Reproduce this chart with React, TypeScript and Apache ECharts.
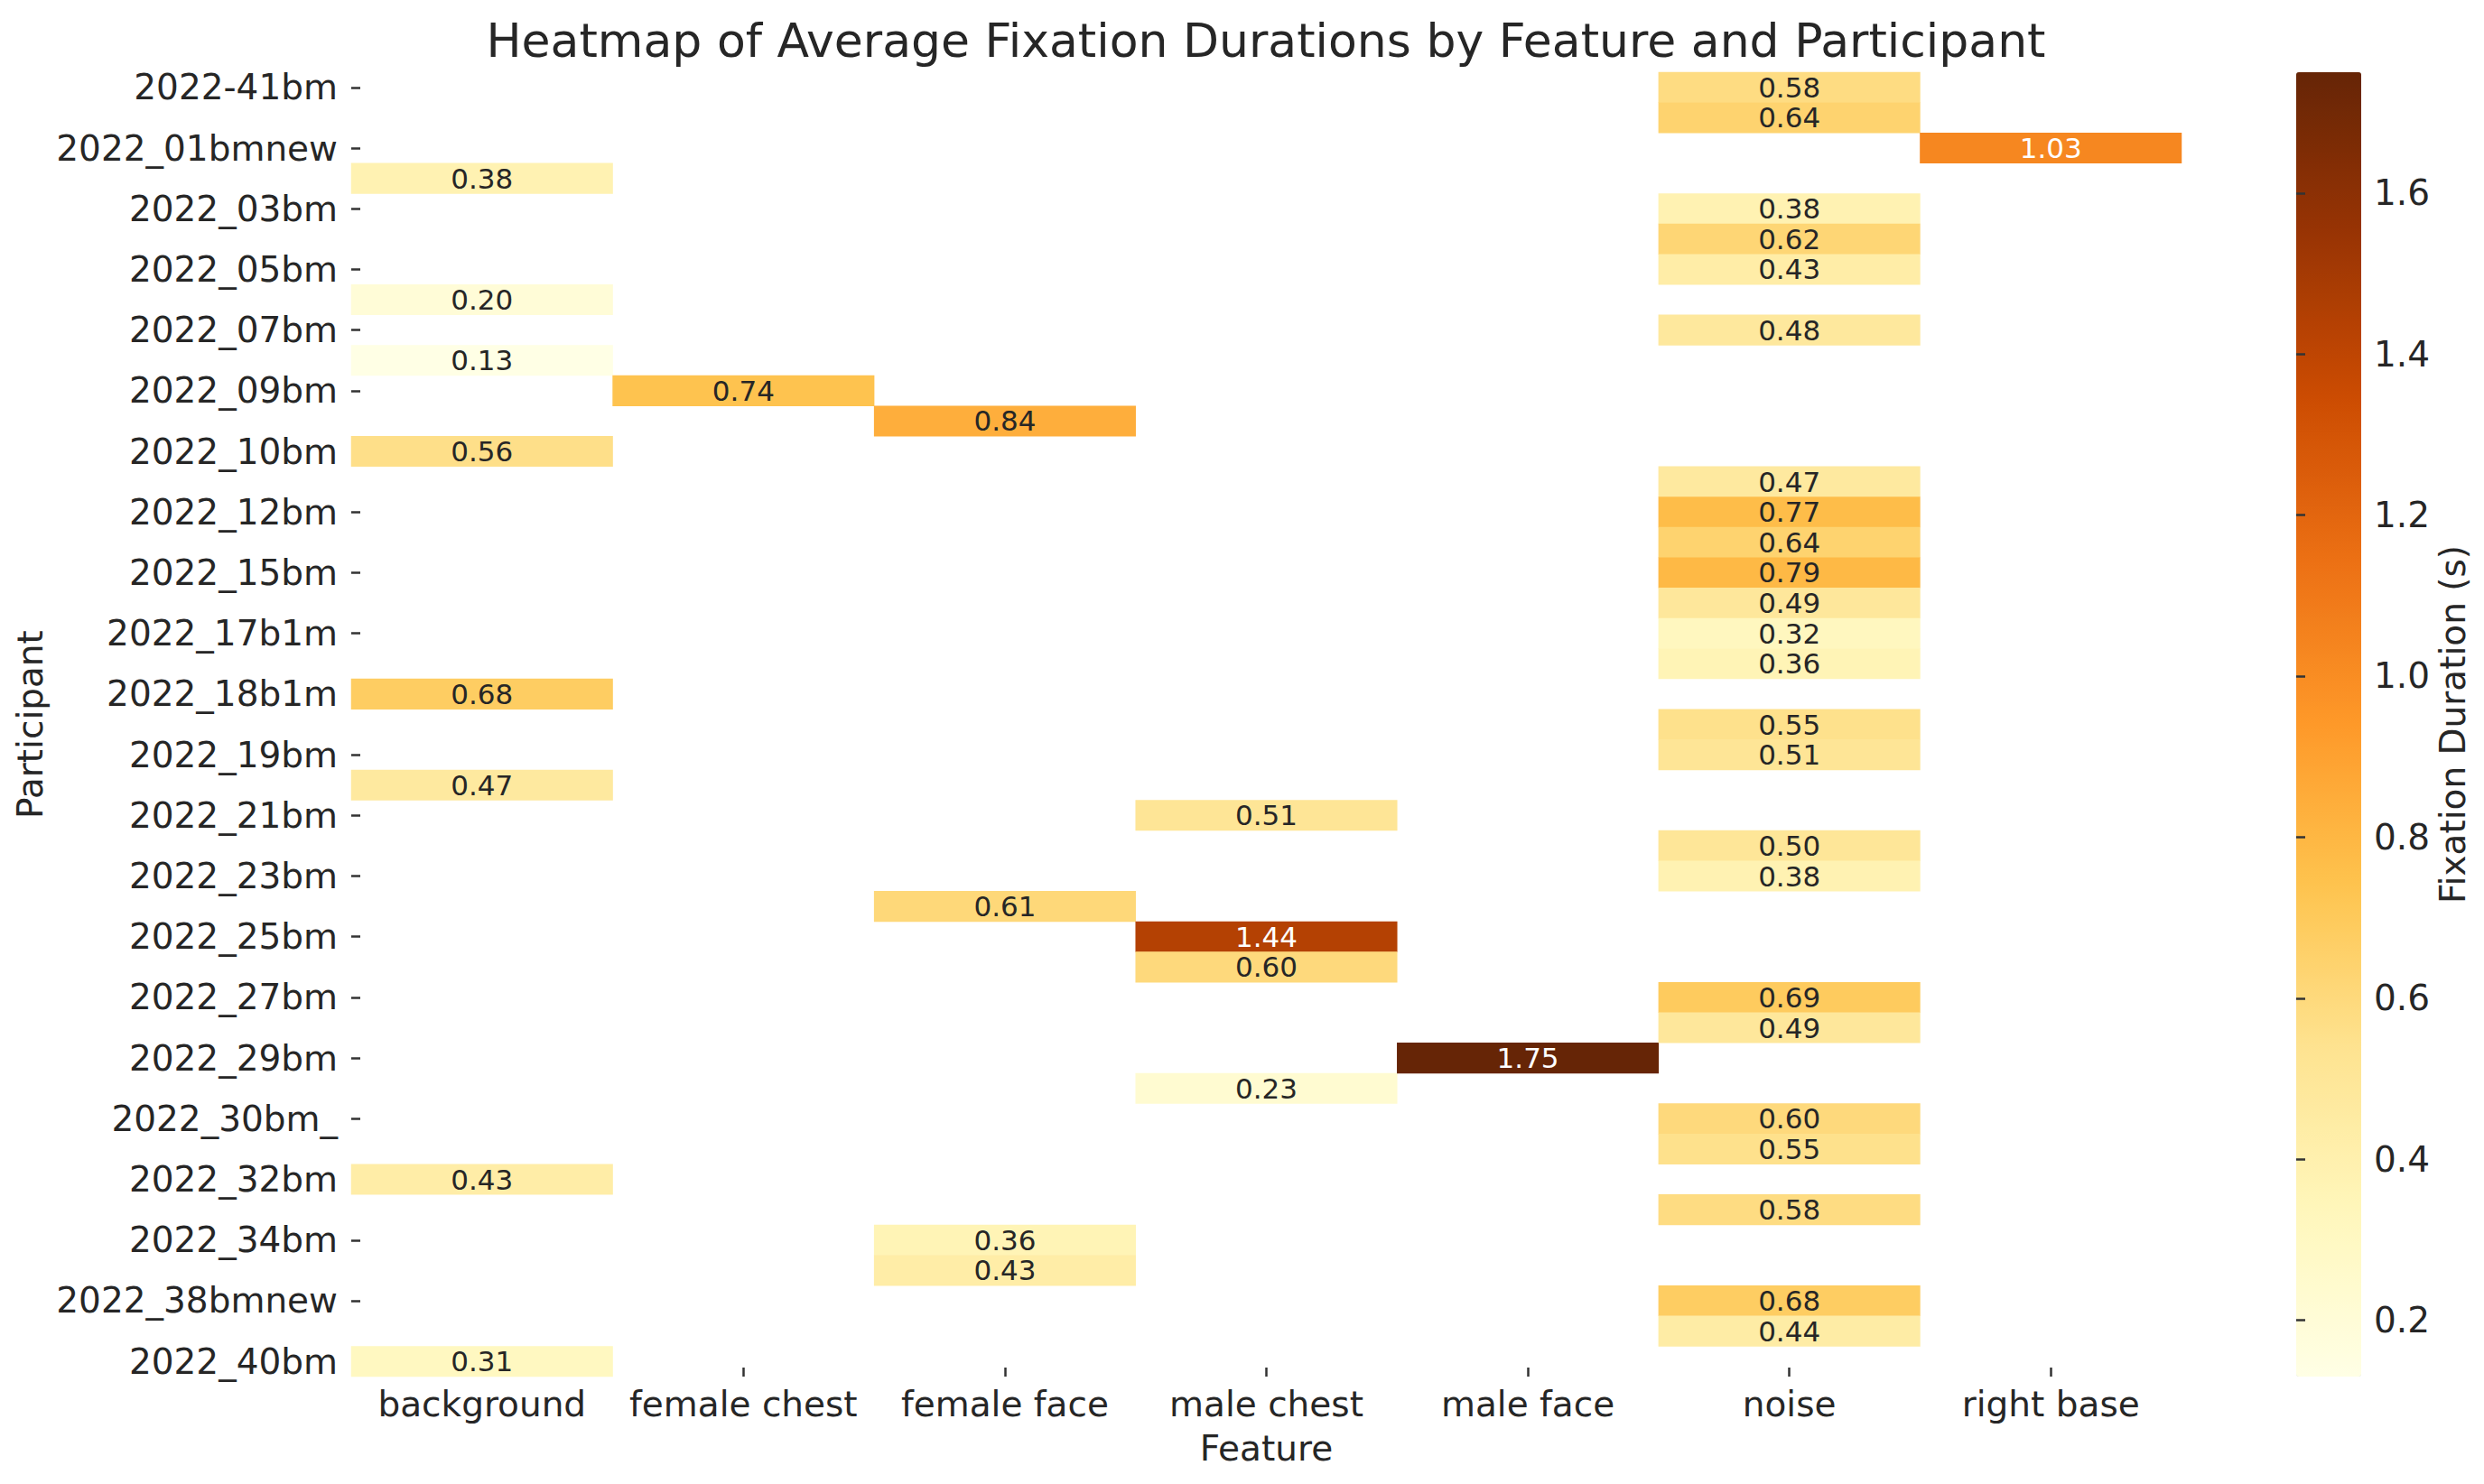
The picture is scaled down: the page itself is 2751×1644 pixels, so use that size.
import React, { useEffect, useRef } from "react";
import * as echarts from "echarts";

const FONT = "DejaVu Sans";
const TEXT = "#262626";

const chartTitle = "Heatmap of Average Fixation Durations by Feature and Participant";

const participants = [
  "2022-41bm", "2022_01bm", "2022_01bmnew", "2022_02bm", "2022_03bm", "2022_04bm",
  "2022_05bm", "2022_06bm", "2022_07bm", "2022_08bm", "2022_09bm", "2022_09bmnew",
  "2022_10bm", "2022_11bm", "2022_12bm", "2022_14bm", "2022_15bm", "2022_16bm",
  "2022_17b1m", "2022_17bm", "2022_18b1m", "2022_18bm", "2022_19bm", "2022_20bm",
  "2022_21bm", "2022_22bm", "2022_23bm", "2022_24bm", "2022_25bm", "2022_26bm",
  "2022_27bm", "2022_28bm", "2022_29bm", "2022_30bm", "2022_30bm_", "2022_31bm",
  "2022_32bm", "2022_33bm", "2022_34bm", "2022_36bm", "2022_38bmnew", "2022_39bm",
  "2022_40bm",
];

const features = [
  "background", "female chest", "female face", "male chest", "male face", "noise", "right base",
];

const background: [string, number][] = [
  ["2022_02bm", 0.38], ["2022_06bm", 0.2], ["2022_08bm", 0.13], ["2022_10bm", 0.56],
  ["2022_18b1m", 0.68], ["2022_20bm", 0.47], ["2022_32bm", 0.43], ["2022_40bm", 0.31],
];
const femaleChest: [string, number][] = [["2022_09bm", 0.74]];
const femaleFace: [string, number][] = [
  ["2022_09bmnew", 0.84], ["2022_24bm", 0.61], ["2022_34bm", 0.36], ["2022_36bm", 0.43],
];
const maleChest: [string, number][] = [
  ["2022_21bm", 0.51], ["2022_25bm", 1.44], ["2022_26bm", 0.6], ["2022_30bm", 0.23],
];
const maleFace: [string, number][] = [["2022_29bm", 1.75]];
const noise: [string, number][] = [
  ["2022-41bm", 0.58], ["2022_01bm", 0.64], ["2022_03bm", 0.38], ["2022_04bm", 0.62],
  ["2022_05bm", 0.43], ["2022_07bm", 0.48], ["2022_11bm", 0.47], ["2022_12bm", 0.77],
  ["2022_14bm", 0.64], ["2022_15bm", 0.79], ["2022_16bm", 0.49], ["2022_17b1m", 0.32],
  ["2022_17bm", 0.36], ["2022_18bm", 0.55], ["2022_19bm", 0.51], ["2022_22bm", 0.5],
  ["2022_23bm", 0.38], ["2022_27bm", 0.69], ["2022_28bm", 0.49], ["2022_30bm_", 0.6],
  ["2022_31bm", 0.55], ["2022_33bm", 0.58], ["2022_38bmnew", 0.68], ["2022_39bm", 0.44],
];
const rightBase: [string, number][] = [["2022_01bmnew", 1.03]];

const colorMin = 0.13;
const colorMax = 1.75;
const colorbarTicks = [0.2, 0.4, 0.6, 0.8, 1.0, 1.2, 1.4, 1.6];
const YlOrBr = [
  "#ffffe5", "#fff7bc", "#fee391", "#fec44f", "#fe9929",
  "#ec7014", "#cc4c02", "#993404", "#662506",
];

export default function App() {
  const ref = useRef<HTMLDivElement>(null);

  useEffect(() => {
    if (!ref.current) return;
    const chart = echarts.init(ref.current, null, { renderer: "svg" });

    const columns = [background, femaleChest, femaleFace, maleChest, maleFace, noise, rightBase];
    const data: any[] = [];
    columns.forEach((cells, fi) => {
      cells.forEach(([p, v]) => {
        data.push({
          value: [fi, participants.indexOf(p), v],
          label: { color: v > 1.0 ? "#ffffff" : TEXT },
        });
      });
    });

    const tickStyle = { color: "#333333", width: 2.5 };

    chart.setOption({
      animation: false,
      backgroundColor: "#ffffff",
      textStyle: { fontFamily: FONT },
      title: {
        text: chartTitle,
        left: 1402,
        top: 19,
        textAlign: "center",
        padding: 0,
        textStyle: { fontFamily: FONT, fontSize: 52, fontWeight: "normal", color: TEXT },
      },
      grid: [
        { left: 389, top: 80, width: 2027, height: 1445, outerBoundsMode: "none", containLabel: false },
        { left: 2543, top: 80, width: 62, height: 1445, outerBoundsMode: "none", containLabel: false },
      ],
      xAxis: [
        {
          gridIndex: 0,
          type: "category",
          data: features,
          axisLine: { show: false },
          axisTick: { show: true, inside: true, alignWithLabel: true, length: 10, lineStyle: tickStyle },
          axisLabel: { interval: 0, fontSize: 39, color: TEXT, margin: 11, fontFamily: FONT },
          splitLine: { show: false },
          name: "Feature",
          nameLocation: "middle",
          nameGap: 60,
          nameMoveOverlap: false,
          nameTextStyle: { fontSize: 39, color: TEXT, fontFamily: FONT },
        },
        { gridIndex: 1, type: "value", min: 0, max: 1, show: false },
      ],
      yAxis: [
        {
          gridIndex: 0,
          type: "category",
          data: participants,
          inverse: true,
          axisLine: { show: false },
          axisTick: { show: true, inside: true, alignWithLabel: true, interval: 1, length: 10, lineStyle: tickStyle },
          axisLabel: { interval: 1, fontSize: 39, color: TEXT, margin: 15, fontFamily: FONT },
          splitLine: { show: false },
          name: "Participant",
          nameLocation: "middle",
          nameRotate: 90,
          nameGap: 336,
          nameMoveOverlap: false,
          nameTextStyle: { fontSize: 39, color: TEXT, fontFamily: FONT },
        },
        {
          gridIndex: 1,
          type: "value",
          position: "right",
          z: 10,
          min: colorMin,
          max: colorMax,
          axisLine: { show: false },
          splitLine: { show: false },
          axisTick: { show: true, inside: false, length: 10, lineStyle: tickStyle, customValues: colorbarTicks },
          axisLabel: {
            fontSize: 39,
            color: TEXT,
            margin: 24,
            fontFamily: FONT,
            customValues: colorbarTicks,
            formatter: (v: number) => v.toFixed(1),
          },
          name: "Fixation Duration (s)",
          nameLocation: "middle",
          nameRotate: 90,
          nameGap: 92,
          nameMoveOverlap: false,
          nameTextStyle: { fontSize: 39, color: TEXT, fontFamily: FONT },
        },
      ],
      visualMap: {
        type: "continuous",
        min: colorMin,
        max: colorMax,
        seriesIndex: 0,
        calculable: false,
        hoverLink: false,
        orient: "vertical",
        left: 2543,
        top: 80,
        padding: 0,
        z: 2,
        itemWidth: 72,
        itemHeight: 1445,
        inRange: { color: YlOrBr },
      },
      series: [
        {
          type: "heatmap",
          xAxisIndex: 0,
          yAxisIndex: 0,
          data,
          itemStyle: { borderWidth: 0 },
          label: {
            show: true,
            fontSize: 31,
            fontFamily: FONT,
            formatter: (p: any) => Number(p.value[2]).toFixed(2),
          },
          emphasis: { disabled: true },
        },
      ],
    });

    return () => chart.dispose();
  }, []);

  return (
    <div
      ref={ref}
      style={{ position: "absolute", left: 0, top: 0, width: 2751, height: 1644 }}
    />
  );
}
